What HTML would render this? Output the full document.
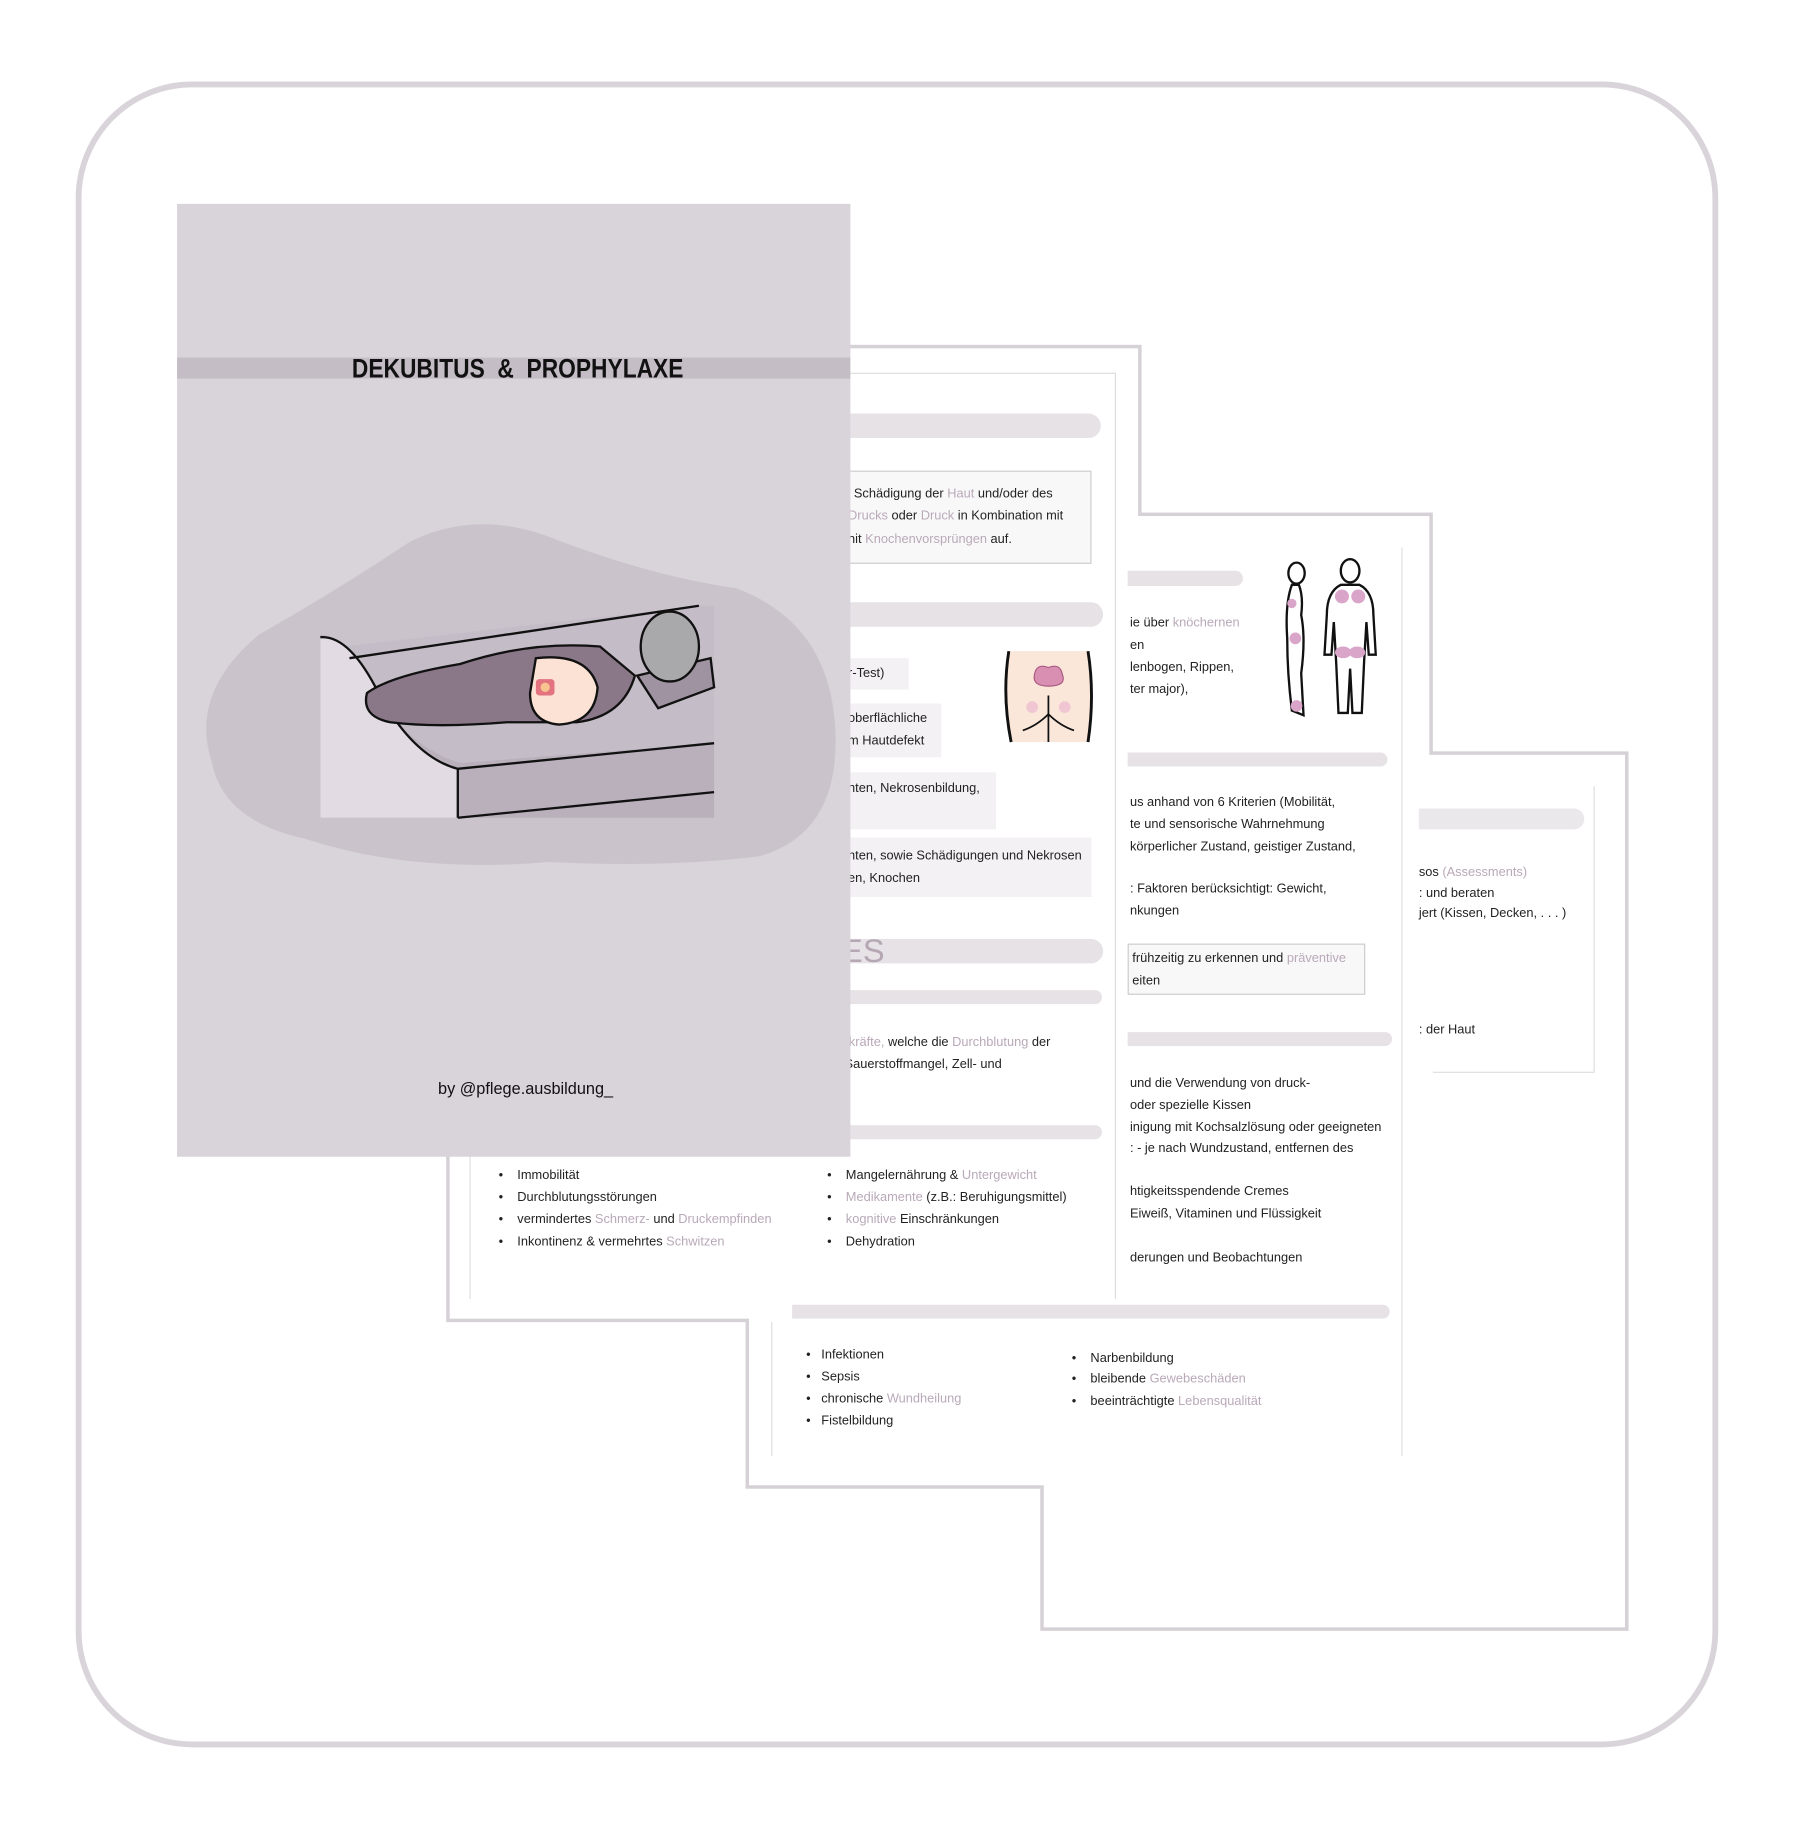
<!DOCTYPE html>
<html><head><meta charset="utf-8">
<style>
html,body{margin:0;padding:0;background:#fff;}
body{width:1801px;height:1830px;overflow:hidden;position:relative;}
#s{position:absolute;left:0;top:0;width:1546px;height:1571px;transform:scale(1.1649);transform-origin:0 0;font-family:"Liberation Sans",sans-serif;}
.a{position:absolute;}
.pb{position:absolute;background:#d6d1d6;}
.pw{position:absolute;background:#fff;}
.bar{position:absolute;background:#e6e2e6;border-radius:0 12px 12px 0;}
.t{position:absolute;font-size:11px;color:#222;white-space:nowrap;line-height:19px;}
.p{color:#b9a9b8;}
.vl{position:absolute;width:1px;background:#ddd;}
.hl{position:absolute;height:1px;background:#ddd;}
.gb{position:absolute;background:#f3f1f3;}
</style></head><body>
<div id="s">
<!-- outer frame -->
<div class="a" style="left:65px;top:70px;width:1410px;height:1430px;border:5px solid #d9d4d9;border-radius:100px;box-sizing:border-box;"></div>

<!-- page union outline: borders then fills -->
<div class="pb" style="left:893px;top:645px;width:505px;height:755px;"></div>
<div class="pb" style="left:640px;top:440px;width:590px;height:838px;"></div>
<div class="pb" style="left:383px;top:296px;width:597px;height:839px;"></div>
<div class="pw" style="left:896px;top:648px;width:499px;height:749px;"></div>
<div class="pw" style="left:643px;top:443px;width:584px;height:832px;"></div>
<div class="pw" style="left:386px;top:299px;width:591px;height:833px;"></div>

<!-- Page C content -->
<div class="vl" style="left:1368px;top:675px;height:245px;"></div>
<div class="hl" style="left:1230px;top:920px;width:139px;"></div>
<div class="bar" style="left:1218px;top:694px;width:142px;height:18px;background:#ebe8eb;"></div>
<div class="t" style="left:1218px;top:740px;">sos <span class="p">(Assessments)</span></div>
<div class="t" style="left:1218px;top:758px;">: und beraten</div>
<div class="t" style="left:1218px;top:775px;">jert (Kissen, Decken, . . . )</div>
<div class="t" style="left:1218px;top:875px;">: der Haut</div>

<!-- Page B content -->
<div class="vl" style="left:1203px;top:470px;height:780px;"></div>
<div class="vl" style="left:662px;top:1135px;height:115px;"></div>
<div class="bar" style="left:968px;top:490px;width:99px;height:13px;"></div>
<div class="bar" style="left:968px;top:646px;width:223px;height:12px;"></div>
<div class="bar" style="left:968px;top:886px;width:227px;height:12px;"></div>
<div class="bar" style="left:680px;top:1120px;width:513px;height:12px;"></div>
<div class="t" style="left:970px;top:526px;">ie über <span class="p">knöchernen</span></div>
<div class="t" style="left:970px;top:545px;">en</div>
<div class="t" style="left:970px;top:564px;">lenbogen, Rippen,</div>
<div class="t" style="left:970px;top:583px;">ter major),</div>
<div class="t" style="left:970px;top:680px;">us anhand von 6 Kriterien (Mobilität,</div>
<div class="t" style="left:970px;top:699px;">te und sensorische Wahrnehmung</div>
<div class="t" style="left:970px;top:718px;"> körperlicher Zustand, geistiger Zustand,</div>
<div class="t" style="left:970px;top:754px;">: Faktoren berücksichtigt: Gewicht,</div>
<div class="t" style="left:970px;top:773px;">nkungen</div>
<div class="a" style="left:968px;top:810px;width:204px;height:44px;border:1px solid #ccc;background:#f9f8f9;box-sizing:border-box;"></div>
<div class="t" style="left:972px;top:814px;">frühzeitig zu erkennen und <span class="p">präventive</span></div>
<div class="t" style="left:972px;top:833px;">eiten</div>
<div class="t" style="left:970px;top:921px;">und die Verwendung von druck-</div>
<div class="t" style="left:970px;top:940px;"> oder spezielle Kissen</div>
<div class="t" style="left:970px;top:959px;">inigung mit Kochsalzlösung oder geeigneten</div>
<div class="t" style="left:970px;top:977px;">: - je nach Wundzustand, entfernen des</div>
<div class="t" style="left:970px;top:1014px;">htigkeitsspendende Cremes</div>
<div class="t" style="left:970px;top:1033px;">Eiweiß, Vitaminen und Flüssigkeit</div>
<div class="t" style="left:970px;top:1071px;">derungen und Beobachtungen</div>
<div class="t" style="left:692px;top:1154px;">•&nbsp;&nbsp;&nbsp;Infektionen</div>
<div class="t" style="left:692px;top:1173px;">•&nbsp;&nbsp;&nbsp;Sepsis</div>
<div class="t" style="left:692px;top:1192px;">•&nbsp;&nbsp;&nbsp;chronische <span class="p">Wundheilung</span></div>
<div class="t" style="left:692px;top:1211px;">•&nbsp;&nbsp;&nbsp;Fistelbildung</div>
<div class="t" style="left:920px;top:1157px;">•&nbsp;&nbsp;&nbsp;&nbsp;Narbenbildung</div>
<div class="t" style="left:920px;top:1175px;">•&nbsp;&nbsp;&nbsp;&nbsp;bleibende <span class="p">Gewebeschäden</span></div>
<div class="t" style="left:920px;top:1194px;">•&nbsp;&nbsp;&nbsp;&nbsp;beeinträchtigte <span class="p">Lebensqualität</span></div>
<svg class="a" style="left:1095px;top:478px;" width="95" height="142" viewBox="0 0 95 142">
<g fill="#fff" stroke="#111" stroke-width="2">
<ellipse cx="18" cy="14" rx="7" ry="9"/>
<path d="M14 24 Q8 40 10 70 Q10 100 14 132 L24 136 L22 100 Q26 70 22 50 Q24 34 20 24Z"/>
<ellipse cx="64" cy="12" rx="8" ry="10"/>
<path d="M56 24 Q44 30 44 50 L42 84 L48 84 L50 56 L52 90 L54 134 L62 134 L64 96 L66 134 L74 134 L76 90 L78 56 L80 84 L86 84 L84 50 Q84 30 72 24Z"/>
</g>
<g fill="#d9a5c8"><circle cx="57" cy="34" r="6"/><circle cx="71" cy="34" r="6"/><ellipse cx="58" cy="82" rx="7" ry="5"/><ellipse cx="70" cy="82" rx="7" ry="5"/><circle cx="14" cy="40" r="4"/><circle cx="17" cy="70" r="5"/><circle cx="18" cy="128" r="5"/></g>
</svg>

<!-- Page A content -->
<div class="vl" style="left:403px;top:320px;height:795px;"></div>
<div class="vl" style="left:957px;top:320px;height:795px;"></div>
<div class="hl" style="left:700px;top:320px;width:258px;"></div>
<div class="bar" style="left:720px;top:355px;width:225px;height:21px;"></div>
<div class="bar" style="left:720px;top:517px;width:227px;height:21px;"></div>
<div class="bar" style="left:720px;top:806px;width:227px;height:21px;"></div>
<div class="bar" style="left:720px;top:850px;width:226px;height:12px;"></div>
<div class="bar" style="left:720px;top:966px;width:226px;height:12px;"></div>
<div class="a" style="left:720px;top:404px;width:217px;height:80px;border:1px solid #ccc;background:#f9f8f9;box-sizing:border-box;"></div>
<div class="t" style="left:733px;top:415px;">Schädigung der <span class="p">Haut</span> und/oder des</div>
<div class="t" style="left:728px;top:434px;"><span class="p">Drucks</span> oder <span class="p">Druck</span> in Kombination mit</div>
<div class="t" style="left:728px;top:454px;">nit <span class="p">Knochenvorsprüngen</span> auf.</div>
<div class="gb" style="left:720px;top:565px;width:60px;height:27px;"></div>
<div class="gb" style="left:720px;top:604px;width:88px;height:46px;"></div>
<div class="gb" style="left:720px;top:663px;width:135px;height:49px;"></div>
<div class="gb" style="left:720px;top:719px;width:217px;height:51px;"></div>
<div class="t" style="left:728px;top:569px;">r-Test)</div>
<div class="t" style="left:728px;top:608px;">oberflächliche</div>
<div class="t" style="left:728px;top:627px;">m Hautdefekt</div>
<div class="t" style="left:728px;top:668px;">hten, Nekrosenbildung,</div>
<div class="t" style="left:728px;top:726px;">hten, sowie Schädigungen und Nekrosen</div>
<div class="t" style="left:728px;top:745px;">en, Knochen</div>
<div class="t" style="left:722px;top:800px;font-size:28px;line-height:34px;color:#b5a7b4;">ES</div>
<div class="t" style="left:725px;top:886px;"><span class="p">rkräfte,</span> welche die <span class="p">Durchblutung</span> der</div>
<div class="t" style="left:725px;top:905px;">Sauerstoffmangel, Zell- und</div>
<svg class="a" style="left:860px;top:557px;" width="80" height="82" viewBox="0 0 80 82">
<path d="M6 2 Q0 40 8 80 L74 80 Q80 40 74 2Z" fill="#fbe6da"/>
<path d="M6 2 Q0 40 8 80 M74 2 Q80 40 74 80" stroke="#111" stroke-width="2.5" fill="none"/>
<path d="M28 22 Q30 12 40 16 Q50 12 52 22 Q56 32 40 32 Q26 32 28 22Z" fill="#d98fb2" stroke="#a85a80"/>
<path d="M40 40 L40 80 M18 70 Q30 66 40 56 Q50 66 62 70" stroke="#111" fill="none" stroke-width="1.5"/>
<circle cx="26" cy="50" r="5" fill="#f0c6d3"/><circle cx="54" cy="50" r="5" fill="#f0c6d3"/>
</svg>
<div class="t" style="left:428px;top:1000px;">•&nbsp;&nbsp;&nbsp;&nbsp;Immobilität</div>
<div class="t" style="left:428px;top:1019px;">•&nbsp;&nbsp;&nbsp;&nbsp;Durchblutungsstörungen</div>
<div class="t" style="left:428px;top:1038px;">•&nbsp;&nbsp;&nbsp;&nbsp;vermindertes <span class="p">Schmerz-</span> und <span class="p">Druckempfinden</span></div>
<div class="t" style="left:428px;top:1057px;">•&nbsp;&nbsp;&nbsp;&nbsp;Inkontinenz &amp; vermehrtes <span class="p">Schwitzen</span></div>
<div class="t" style="left:710px;top:1000px;">•&nbsp;&nbsp;&nbsp;&nbsp;Mangelernährung &amp; <span class="p">Untergewicht</span></div>
<div class="t" style="left:710px;top:1019px;">•&nbsp;&nbsp;&nbsp;&nbsp;<span class="p">Medikamente</span> (z.B.: Beruhigungsmittel)</div>
<div class="t" style="left:710px;top:1038px;">•&nbsp;&nbsp;&nbsp;&nbsp;<span class="p">kognitive</span> Einschränkungen</div>
<div class="t" style="left:710px;top:1057px;">•&nbsp;&nbsp;&nbsp;&nbsp;Dehydration</div>

<!-- Cover -->
<div class="a" style="left:152px;top:175px;width:578px;height:818px;background:#d9d3da;overflow:hidden;">
  <div class="a" style="left:0;top:132px;width:578px;height:18px;background:#c5bdc6;"></div>
  <div class="a" style="left:0;top:126px;width:578px;text-align:center;font-size:23px;font-weight:bold;letter-spacing:0px;color:#111;line-height:30px;padding-left:8px;box-sizing:border-box;transform:scaleX(0.85);">DEKUBITUS &nbsp;&amp;&nbsp; PROPHYLAXE</div>
  <svg class="a" style="left:0;top:0;" width="578" height="818" viewBox="0 0 578 818">
    <path d="M30 480 Q10 420 70 370 Q140 330 200 290 Q260 260 330 290 Q410 320 480 330 Q560 360 565 450 Q570 540 500 560 Q420 570 320 565 Q200 575 110 545 Q40 530 30 480Z" fill="#cbc3cc"/>
    <g transform="translate(123,345)">
      <rect x="0" y="0" width="338" height="182" fill="#cbc3cc"/>
      <path d="M20 35 L325 0 L338 0 L338 182 L0 182 L0 35Z" fill="#c4bcc6"/>
      <path d="M0 25 Q20 25 40 60 Q70 120 120 135 L338 118 L338 182 L0 182Z" fill="#b9b0bb"/>
      <path d="M0 27 Q25 25 50 75 Q80 130 118 140 L118 182 L0 182Z" fill="#e3dbe3"/>
      <path d="M0 27 Q25 25 50 75 Q80 130 118 140 L118 182" stroke="#111" stroke-width="2" fill="none"/>
      <path d="M25 45 L325 0" stroke="#111" stroke-width="2"/>
      <path d="M118 140 L338 118 M118 182 L338 160" stroke="#111" stroke-width="2"/>
      <path d="M40 75 Q60 60 120 50 Q180 30 240 35 L270 60 Q260 95 220 100 L160 100 Q100 105 60 100 Q35 95 40 75Z" fill="#8a7888" stroke="#111" stroke-width="2"/>
      <path d="M185 45 Q230 40 238 70 Q236 100 205 102 Q180 100 180 75Z" fill="#fbe2d4" stroke="#111" stroke-width="2"/>
      <rect x="185" y="63" width="16" height="14" rx="3" fill="#e2737f"/>
      <circle cx="193" cy="70" r="4" fill="#f7c48f"/>
      <path d="M272 60 L335 45 L338 70 L290 88Z" fill="#9f93a2" stroke="#111" stroke-width="2"/>
      <ellipse cx="300" cy="35" rx="25" ry="30" fill="#a9a8ab" stroke="#111" stroke-width="2"/>
    </g>
    <text x="224" y="764" font-family="Liberation Sans, sans-serif" font-size="14" fill="#111">by @pflege.ausbildung_</text>
  </svg>
</div>
</div>
</body></html>
